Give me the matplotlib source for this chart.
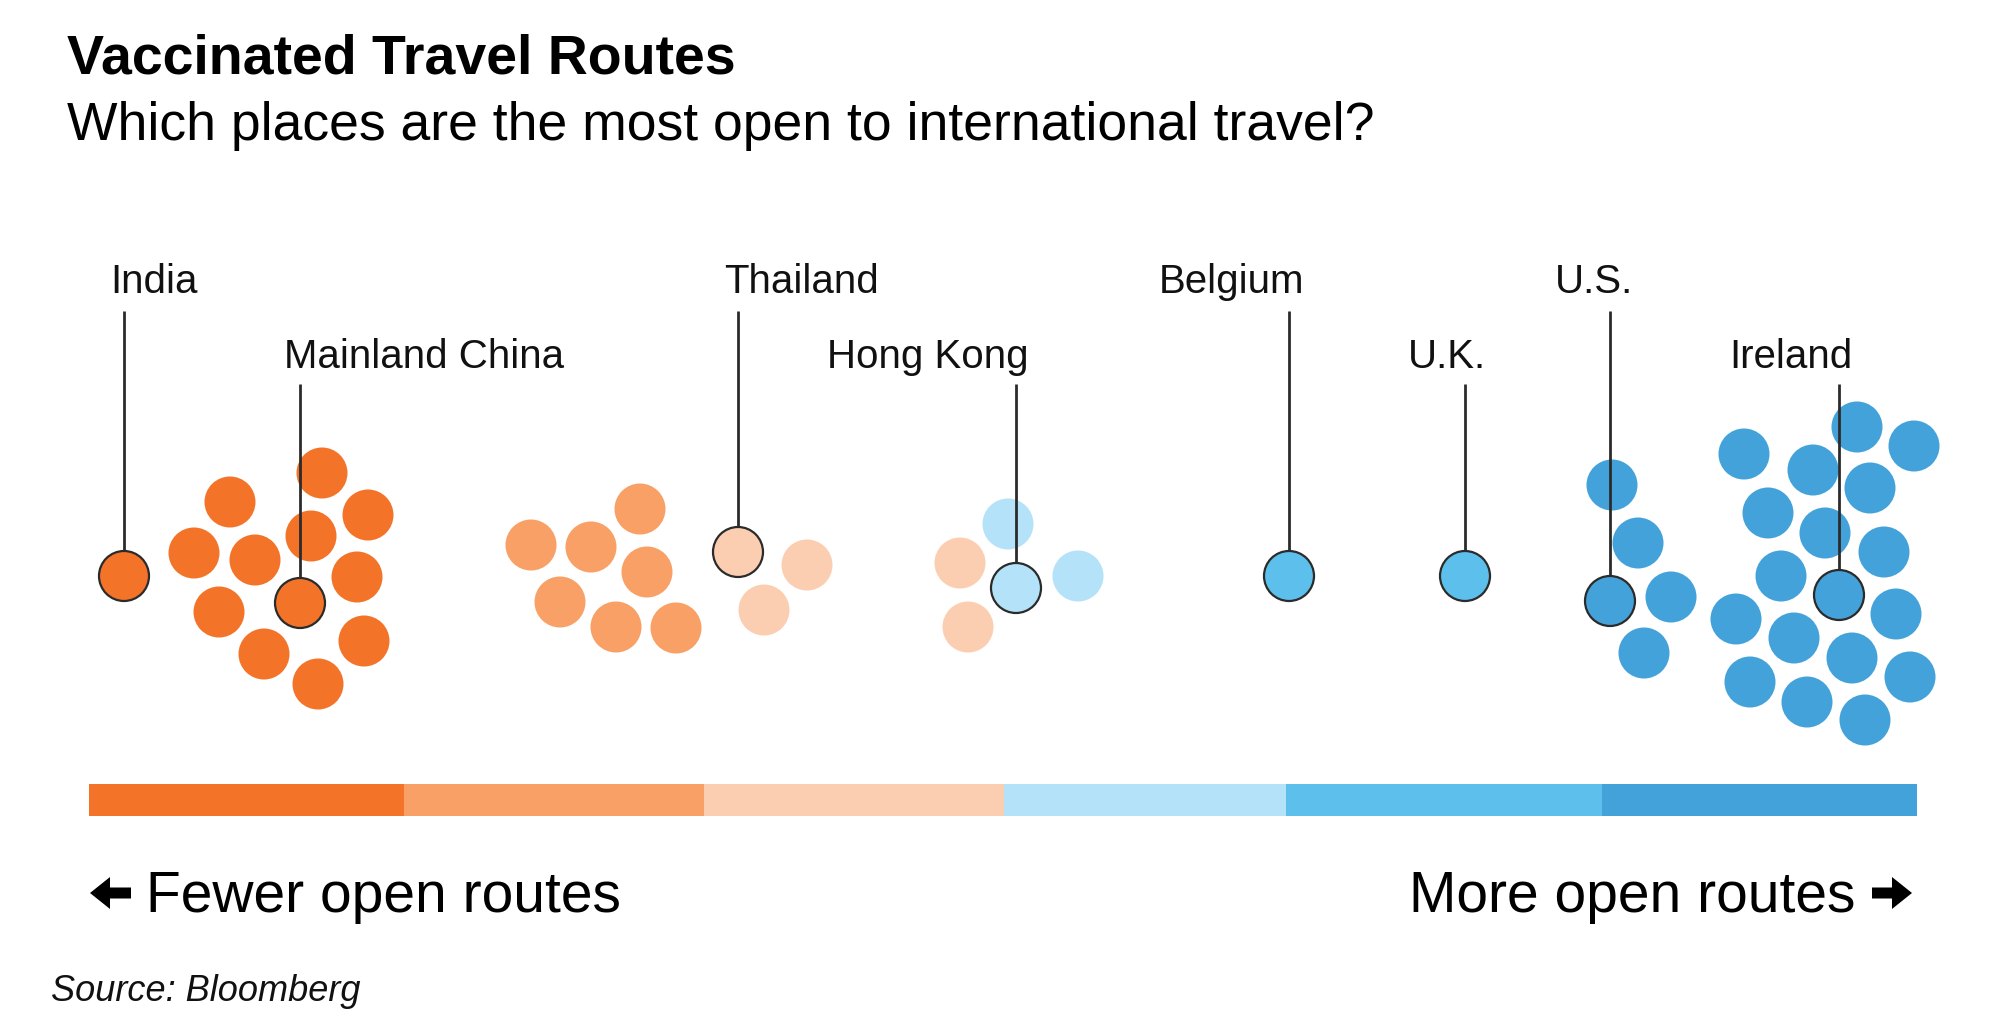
import matplotlib
matplotlib.use("Agg")
import matplotlib.pyplot as plt
from matplotlib.patches import Circle, Rectangle, FancyArrow

# ---------------- data ----------------
tiers = ["tier1", "tier2", "tier3", "tier4", "tier5", "tier6"]
tier_colors = ["#F37329", "#F8A066", "#FBCEB1", "#B4E2F8", "#5DC0EC", "#42A2D9"]
tier_edges = [89, 404, 704, 1004, 1286, 1602, 1917]

# swarm positions (x = openness position, y = swarm offset), pixel-like units
tier1_x = [124, 230, 194, 255, 311, 322, 368, 219, 300, 357, 264, 364, 318]
tier1_y = [576, 502, 553, 560, 536, 473, 515, 612, 603, 577, 654, 641, 684]
tier2_x = [531, 591, 640, 647, 560, 616, 676]
tier2_y = [545, 547, 509, 572, 602, 627, 628]
tier3_x = [738, 807, 764, 960, 968]
tier3_y = [552, 565, 610, 563, 627]
tier4_x = [1016, 1008, 1078]
tier4_y = [588, 524, 576]
tier5_x = [1289, 1465]
tier5_y = [576, 576]
tier6_x = [1610, 1612, 1638, 1671, 1644,
           1839, 1744, 1813, 1857, 1914, 1870, 1768, 1825, 1884, 1781,
           1736, 1794, 1896, 1852, 1910, 1750, 1807, 1865]
tier6_y = [601, 485, 543, 597, 653,
           595, 454, 470, 427, 446, 488, 513, 533, 552, 576,
           619, 638, 614, 658, 677, 682, 702, 720]

series_x = [tier1_x, tier2_x, tier3_x, tier4_x, tier5_x, tier6_x]
series_y = [tier1_y, tier2_y, tier3_y, tier4_y, tier5_y, tier6_y]

# labelled places: (name, tier index, index of point within tier, label row)
places = ["India", "Mainland China", "Thailand", "Hong Kong",
          "Belgium", "U.K.", "U.S.", "Ireland"]
place_tier = [0, 0, 2, 3, 4, 4, 5, 5]
place_point = [0, 8, 0, 0, 0, 1, 0, 5]
place_row = [0, 1, 0, 1, 0, 1, 0, 1]
place_label_left = [110, 284, 724, 827, 1159, 1408, 1555, 1729]

title = "Vaccinated Travel Routes"
subtitle = "Which places are the most open to international travel?"
left_note = "Fewer open routes"
right_note = "More open routes"
source = "Source: Bloomberg"

# ---------------- drawing ----------------
W, H = 1991, 1031
fig = plt.figure(figsize=(W / 100, H / 100), dpi=100)
ax = fig.add_axes([0, 0, 1, 1])
ax.set_xlim(0, W)
ax.set_ylim(H, 0)
ax.axis("off")

FONT = ["Liberation Sans", "DejaVu Sans"]
R = 25.5

highlighted = {(t, p) for t, p in zip(place_tier, place_point)}

for ti, (xs, ys) in enumerate(zip(series_x, series_y)):
    for pi, (x, y) in enumerate(zip(xs, ys)):
        if (ti, pi) in highlighted:
            continue
        ax.add_patch(Circle((x, y), R, facecolor=tier_colors[ti],
                            edgecolor="none", zorder=2))

row_line_top = [311, 384]
row_baseline = [293, 368]
for name, t, p, row, lx in zip(places, place_tier, place_point, place_row,
                               place_label_left):
    x = series_x[t][p]
    y = series_y[t][p]
    ax.plot([x, x], [row_line_top[row], y - R], color="#2b2b2b",
            lw=2.0, zorder=3, solid_capstyle="butt")
    ax.add_patch(Circle((x, y), R - 0.5, facecolor=tier_colors[t],
                        edgecolor="#2b2b2b", lw=1.6, zorder=4))
    ax.text(lx, row_baseline[row], name, fontsize=29, family=FONT,
            ha="left", va="baseline", color="#111111")

# colour bar
for i in range(len(tiers)):
    ax.add_patch(Rectangle((tier_edges[i], 784),
                           tier_edges[i + 1] - tier_edges[i], 32,
                           facecolor=tier_colors[i], edgecolor="none"))

ax.text(67, 73, title, fontsize=40, fontweight="bold", family=FONT,
        ha="left", va="baseline", color="#000000")
ax.text(67, 140, subtitle, fontsize=38.5, family=FONT,
        ha="left", va="baseline", color="#000000")

# direction arrows
ax.add_patch(FancyArrow(131, 893, -41, 0, width=11, head_width=32,
                        head_length=20, length_includes_head=True,
                        facecolor="#000000", edgecolor="none"))
ax.add_patch(FancyArrow(1872, 893, 40, 0, width=11, head_width=32,
                        head_length=20, length_includes_head=True,
                        facecolor="#000000", edgecolor="none"))
ax.text(146, 912, left_note, fontsize=41, family=FONT,
        ha="left", va="baseline", color="#000000")
ax.text(1855, 912, right_note, fontsize=41, family=FONT,
        ha="right", va="baseline", color="#000000")

ax.text(51, 1001, source, fontsize=26, style="italic", family=FONT,
        ha="left", va="baseline", color="#111111")

fig.savefig("out.png", dpi=100, facecolor="white")
